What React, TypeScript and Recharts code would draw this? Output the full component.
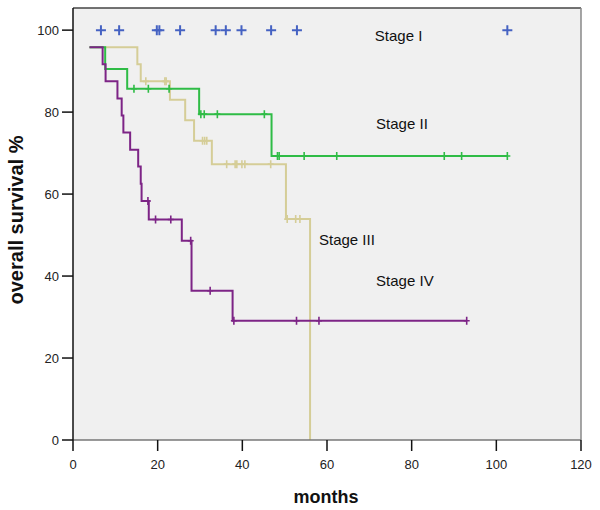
import React from "react";
import {
  ComposedChart,
  Line,
  Scatter,
  XAxis,
  YAxis,
  CartesianGrid,
  ReferenceLine,
  ReferenceDot,
} from "recharts";

// Kaplan-Meier steps (months, survival %)
const stage1Censors = [6.6, 10.9, 19.8, 20.4, 25.3, 33.7, 36.1, 39.8, 46.8, 52.9, 102.6];

const stage2Times = [3.9, 7.6, 12.8, 29.8, 46.9];
const stage2Surv = [95.8, 90.5, 85.7, 79.5, 69.3];
const stage2End = 102.6;
const stage2Censors = [14.4, 17.8, 22.7, 30.2, 31.0, 34.1, 45.2, 48.3, 48.7, 54.6, 62.3, 87.7, 91.8, 102.6];

const stage3Times = [3.9, 15.2, 16.0, 22.9, 26.5, 28.6, 32.8, 50.3, 56.0];
const stage3Surv = [95.8, 91.7, 87.5, 83.0, 78.0, 73.0, 67.3, 53.9, 0];
const stage3Censors = [17.2, 21.7, 22.0, 30.6, 31.1, 31.6, 36.3, 38.3, 38.7, 39.9, 40.6, 46.7, 50.6, 52.6, 53.6];

const stage4Times = [3.9, 7.0, 7.7, 10.5, 11.5, 11.9, 13.5, 15.4, 16.0, 16.2, 17.9, 25.7, 28.0, 37.7];
const stage4Surv = [95.8, 91.7, 87.5, 83.3, 79.2, 75.0, 70.8, 66.7, 62.5, 58.3, 53.8, 48.6, 36.4, 29.1];
const stage4End = 93.0;
const stage4Censors = [17.7, 19.5, 23.1, 27.8, 32.4, 38.0, 52.8, 58.1, 93.0];

const xTicks = [0, 20, 40, 60, 80, 100, 120];
const yTicks = [0, 20, 40, 60, 80, 100];

const stageLabels = [
  { name: "Stage I", x: 71.3, y: 98.6 },
  { name: "Stage II", x: 71.6, y: 77.3 },
  { name: "Stage III", x: 58.1, y: 49.0 },
  { name: "Stage IV", x: 71.6, y: 39.0 },
];

const BLUE = "#4562c2";
const GREEN = "#2fbc46";
const BEIGE = "#d5cd97";
const PURPLE = "#7d2486";
const FONT = "'Liberation Sans', Arial, sans-serif";

function steps(times: number[], surv: number[], end?: number) {
  const pts = times.map((t, i) => ({ x: t, y: surv[i] }));
  if (end !== undefined) pts.push({ x: end, y: surv[surv.length - 1] });
  return pts;
}

function survAt(times: number[], surv: number[], t: number) {
  let v = surv[0];
  for (let i = 0; i < times.length; i++) if (times[i] <= t) v = surv[i];
  return v;
}

const censorPts = (c: number[], times: number[], surv: number[]) =>
  c.map((t) => ({ x: t, y: survAt(times, surv, t) }));

const plusShape = (color: string, arm: number) => (props: any) => {
  const { cx, cy } = props;
  return (
    <path
      d={`M${cx - arm},${cy}H${cx + arm}M${cx},${cy - arm}V${cy + arm}`}
      stroke={color}
      strokeWidth={2}
      fill="none"
    />
  );
};

const tickShape = (color: string) => (props: any) => {
  const { cx, cy } = props;
  return (
    <path
      d={`M${cx - 3},${cy}H${cx + 3}M${cx},${cy - 4}V${cy + 4}`}
      stroke={color}
      strokeWidth={1.6}
      fill="none"
    />
  );
};

export default function App() {
  return (
    <div style={{ width: 600, height: 510, background: "#fff" }}>
      <style>{"body{margin:0}"}</style>
      <ComposedChart
        width={600}
        height={510}
        margin={{ top: 8, right: 19, left: 0, bottom: 0 }}
      >
        <CartesianGrid fill="#f0f0f0" horizontal={false} vertical={false} />
        <XAxis
          type="number"
          dataKey="x"
          domain={[0, 120]}
          ticks={xTicks}
          allowDataOverflow
          height={70}
          axisLine={{ stroke: "#777", strokeWidth: 1.5 }}
          tickLine={{ stroke: "#111", strokeWidth: 1.5 }}
          tickSize={11}
          tickMargin={9}
          tick={{ fill: "#222", fontSize: 13, fontFamily: FONT }}
          label={{
            content: ({ viewBox }: any) => (
              <text
                x={viewBox.x + viewBox.width / 2 - 1}
                y={viewBox.y + 57}
                textAnchor="middle"
                dominantBaseline="central"
                fontFamily={FONT}
                fontWeight="bold"
                fontSize={18}
                fill="#111"
              >
                months
              </text>
            ),
          }}
        />
        <YAxis
          type="number"
          dataKey="y"
          domain={[0, 105.4]}
          ticks={yTicks}
          allowDataOverflow
          width={73}
          axisLine={{ stroke: "#111", strokeWidth: 1.5 }}
          tickLine={{ stroke: "#111", strokeWidth: 1.5 }}
          tickSize={11}
          tickMargin={3}
          tick={{ fill: "#222", fontSize: 13, fontFamily: FONT }}
          label={{
            content: ({ viewBox }: any) => {
              const cx = 16;
              const cy = viewBox.y + viewBox.height / 2 - 4;
              return (
                <text
                  x={cx}
                  y={cy}
                  transform={`rotate(-90 ${cx} ${cy})`}
                  textAnchor="middle"
                  dominantBaseline="central"
                  fontFamily={FONT}
                  fontWeight="bold"
                  fontSize={20}
                  fill="#111"
                >
                  overall survival %
                </text>
              );
            },
          }}
        />
        <ReferenceLine y={105.4} stroke="#444" strokeWidth={1.5} />
        <ReferenceLine x={120} stroke="#888" strokeWidth={1.5} />

        <Line
          data={steps(stage3Times, stage3Surv)}
          dataKey="y"
          type="stepAfter"
          stroke={BEIGE}
          strokeWidth={2}
          dot={false}
          isAnimationActive={false}
        />
        <Scatter
          data={censorPts(stage3Censors, stage3Times, stage3Surv)}
          dataKey="y"
          shape={tickShape(BEIGE)}
          isAnimationActive={false}
        />
        <Line
          data={steps(stage2Times, stage2Surv, stage2End)}
          dataKey="y"
          type="stepAfter"
          stroke={GREEN}
          strokeWidth={2}
          dot={false}
          isAnimationActive={false}
        />
        <Scatter
          data={censorPts(stage2Censors, stage2Times, stage2Surv)}
          dataKey="y"
          shape={tickShape(GREEN)}
          isAnimationActive={false}
        />
        <Line
          data={steps(stage4Times, stage4Surv, stage4End)}
          dataKey="y"
          type="stepAfter"
          stroke={PURPLE}
          strokeWidth={2}
          dot={false}
          isAnimationActive={false}
        />
        <Scatter
          data={censorPts(stage4Censors, stage4Times, stage4Surv)}
          dataKey="y"
          shape={tickShape(PURPLE)}
          isAnimationActive={false}
        />
        <Scatter
          data={stage1Censors.map((t) => ({ x: t, y: 100 }))}
          dataKey="y"
          shape={plusShape(BLUE, 5)}
          isAnimationActive={false}
        />

        {stageLabels.map((l) => (
          <ReferenceDot
            key={l.name}
            x={l.x}
            y={l.y}
            r={0}
            fill="none"
            stroke="none"
            label={{
              content: ({ viewBox }: any) => (
                <text
                  x={viewBox.x}
                  y={viewBox.y}
                  dominantBaseline="central"
                  fontFamily={FONT}
                  fontSize={15}
                  fill="#111"
                >
                  {l.name}
                </text>
              ),
            }}
          />
        ))}
      </ComposedChart>
    </div>
  );
}
